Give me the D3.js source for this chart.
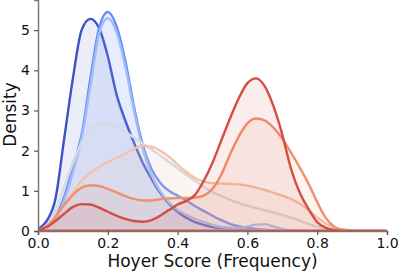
<!DOCTYPE html>
<html>
  <head>
    <title>Hoyer Score Density</title>
    <style>
      body {
        margin: 0;
        background: #fff;
      }
      text {
        font-family: 'DejaVu Sans', sans-serif;
      }
    </style>
    <script src="https://d3js.org/d3.v7.min.js"></script>
  </head>
  <body>
    <svg id="chart" width="399" height="274"></svg>
  </body>

  <script>
    // hoyer score grid (x) and one density curve per group
    var xs = [
      0, 0.025, 0.05, 0.075, 0.1, 0.125, 0.15, 0.175, 0.2, 0.225, 0.25,
      0.275, 0.3, 0.325, 0.35, 0.375, 0.4, 0.425, 0.45, 0.475, 0.5, 0.525,
      0.55, 0.575, 0.6, 0.625, 0.65, 0.675, 0.7, 0.725, 0.75, 0.775, 0.8,
      0.825, 0.85, 0.875, 0.9, 0.925, 0.95, 0.975, 1.0,
    ];

    var darkBlue = [
      0.05, 0.25, 0.8, 2.3, 3.8, 5.0, 5.28, 5.05, 4.35, 3.4, 2.75, 2.2, 1.7,
      1.3, 0.95, 0.68, 0.48, 0.33, 0.22, 0.15, 0.1, 0.07, 0.05, 0.04, 0.03,
      0.02, 0.01, 0, 0, 0, 0, 0, 0, 0, 0, 0, 0, 0, 0, 0, 0,
    ];
    var blue = [
      0.02, 0.1, 0.35, 0.85, 1.6, 2.4, 3.8, 5.05, 5.45, 5.1, 4.25, 3.1, 2.15,
      1.55, 1.2, 1.0, 0.88, 0.76, 0.62, 0.5, 0.38, 0.27, 0.18, 0.12, 0.08,
      0.05, 0.03, 0.02, 0.01, 0, 0, 0, 0, 0, 0, 0, 0, 0, 0, 0, 0,
    ];
    var lightBlue = [
      0.02, 0.08, 0.3, 0.75, 1.45, 2.3, 3.6, 4.9, 5.3, 4.95, 4.1, 3.0, 2.05,
      1.4, 1.0, 0.72, 0.52, 0.4, 0.3, 0.22, 0.15, 0.1, 0.08, 0.08, 0.11,
      0.16, 0.17, 0.11, 0.05, 0.02, 0.01, 0, 0, 0, 0, 0, 0, 0, 0, 0, 0,
    ];
    var grey = [
      0.03, 0.15, 0.5, 1.1, 1.7, 2.2, 2.55, 2.68, 2.68, 2.6, 2.47, 2.33,
      2.18, 2.03, 1.88, 1.72, 1.56, 1.4, 1.25, 1.1, 0.97, 0.87, 0.78, 0.7,
      0.63, 0.57, 0.52, 0.46, 0.4, 0.33, 0.26, 0.18, 0.11, 0.06, 0.03, 0.01,
      0, 0, 0, 0, 0,
    ];
    var peach = [
      0.02, 0.1, 0.35, 0.65, 0.95, 1.25, 1.45, 1.6, 1.72, 1.82, 1.93, 2.05,
      2.12, 2.1, 2.0, 1.85, 1.65, 1.47, 1.32, 1.23, 1.19, 1.18, 1.17, 1.16,
      1.13, 1.08, 1.02, 0.95, 0.88, 0.8, 0.68, 0.52, 0.34, 0.18, 0.08, 0.03,
      0.01, 0, 0, 0, 0,
    ];
    var orange = [
      0.02, 0.12, 0.35, 0.65, 0.9, 1.08, 1.14, 1.12, 1.05, 0.96, 0.87, 0.8,
      0.76, 0.76, 0.79, 0.81, 0.82, 0.82, 0.83, 0.88, 1.05, 1.4, 1.9, 2.35,
      2.68, 2.8, 2.75, 2.57, 2.3, 1.95, 1.58, 1.18, 0.72, 0.32, 0.1, 0.03,
      0.01, 0, 0, 0, 0,
    ];
    var red = [
      0.03, 0.1, 0.25, 0.43, 0.6, 0.67, 0.66, 0.58, 0.48, 0.38, 0.3, 0.25,
      0.23, 0.27, 0.38, 0.52, 0.66, 0.75, 0.9, 1.25, 1.7, 2.25, 2.8, 3.3,
      3.68, 3.8, 3.6, 3.1, 2.4, 1.55, 0.95, 0.55, 0.22, 0.08, 0.02, 0, 0, 0,
      0, 0, 0,
    ];

    var groups = [darkBlue, blue, lightBlue, grey, peach, orange, red];
    var colors = [
      '#3f50c6',
      '#6a8ef2',
      '#9dbcfb',
      '#d6dae2',
      '#f4c3aa',
      '#f0906f',
      '#d44e41',
    ];

    var xTicks = [0, 0.2, 0.4, 0.6, 0.8, 1.0];
    var yTicks = [0, 1, 2, 3, 4, 5];

    var svg = d3.select('#chart'),
      margin = { top: 0, left: 38, bottom: 43, right: 12 },
      width = +svg.attr('width'),
      height = +svg.attr('height');

    var x = d3
      .scaleLinear()
      .domain([0, 1])
      .range([margin.left, width - margin.right]);

    var y = d3
      .scaleLinear()
      .domain([0, 5.75])
      .range([height - margin.bottom, margin.top]);

    svg
      .append('clipPath')
      .attr('id', 'plot')
      .append('rect')
      .attr('x', x(0))
      .attr('y', y(5.75))
      .attr('width', x(1) - x(0))
      .attr('height', y(0) - y(5.75));

    var area = d3
      .area()
      .x((d, i) => x(xs[i]))
      .y0(y(0))
      .y1((d) => y(d))
      .curve(d3.curveMonotoneX);

    svg
      .append('g')
      .attr('clip-path', 'url(#plot)')
      .selectAll('path')
      .data(groups)
      .enter()
      .append('path')
      .attr('d', (d) => area(d))
      .attr('fill', (d, i) => colors[i])
      .attr('fill-opacity', 0.1)
      .attr('stroke', (d, i) => colors[i])
      .attr('stroke-width', 2.4)
      .attr('stroke-linejoin', 'round');

    var xAxis = svg
      .append('g')
      .attr('transform', `translate(0,${y(0)})`)
      .call(
        d3
          .axisBottom(x)
          .tickValues(xTicks)
          .tickFormat(d3.format('.1f'))
          .tickSizeOuter(0)
          .tickSize(4)
          .tickPadding(3)
      );

    var yAxis = svg
      .append('g')
      .attr('transform', `translate(${x(0)},0)`)
      .call(
        d3
          .axisLeft(y)
          .tickValues(yTicks)
          .tickFormat(d3.format('d'))
          .tickSizeOuter(0)
          .tickSize(4)
          .tickPadding(4)
      );

    svg.selectAll('.domain').attr('stroke', '#777').attr('stroke-width', 1.5);
    svg.selectAll('.tick line').attr('stroke', '#555').attr('stroke-width', 1.2);
    svg
      .selectAll('.tick text')
      .attr('fill', '#111')
      .style('font-size', '14px');

    svg
      .append('text')
      .attr('text-anchor', 'middle')
      .attr('x', (x(0) + x(1)) / 2)
      .attr('y', 267)
      .style('font-size', '17px')
      .attr('fill', '#111')
      .text('Hoyer Score (Frequency)');

    svg
      .append('text')
      .attr('text-anchor', 'middle')
      .attr('transform', `translate(15.5,${y(2.9)}) rotate(-90)`)
      .style('font-size', '17px')
      .attr('fill', '#111')
      .text('Density');
  </script>
</html>
